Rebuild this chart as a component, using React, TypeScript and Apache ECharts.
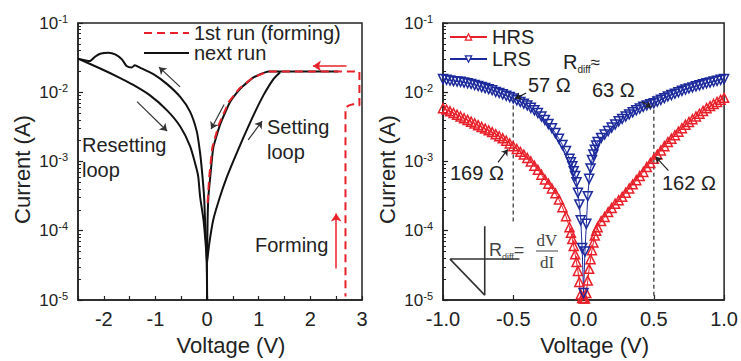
import React, { useEffect, useRef } from 'react';
import * as echarts from 'echarts';

const RED = '#e8202a';
const BLUE = '#1c2a9c';
const INK = '#222222';
const FONT = 'Liberation Sans, Arial, sans-serif';

// ---------- Left panel (voltage in V, log10 of current in A) ----------
const resetUpperV = [-2.5, -2.27, -2.17, -2.07, -1.91, -1.78, -1.65, -1.56, -1.46, -1.4, -1.3, -1.04, -0.78, -0.52, -0.33, -0.2, -0.14, -0.1, -0.058, -0.04, -0.02, -0.006, 0];
const resetUpperLog = [-1.515, -1.549, -1.487, -1.444, -1.43, -1.454, -1.525, -1.62, -1.643, -1.61, -1.643, -1.738, -1.879, -2.068, -2.28, -2.565, -2.85, -3.13, -3.51, -3.84, -4.17, -4.46, -5];
const resetLowerV = [-2.5, -2.07, -1.75, -1.43, -1.105, -0.78, -0.52, -0.33, -0.21, -0.17, -0.135, -0.07, -0.03, -0.005, 0];
const resetLowerLog = [-1.515, -1.657, -1.77, -1.894, -2.045, -2.258, -2.494, -2.777, -3.085, -3.227, -3.51, -3.84, -4.17, -4.45, -5];
const setInnerV = [0, 0.01, 0.025, 0.06, 0.12, 0.25, 0.445, 0.64, 0.9, 1.19, 2.54];
const setInnerLog = [-4.4, -3.84, -3.51, -3.23, -2.8, -2.47, -2.14, -1.95, -1.785, -1.7, -1.7];
const setOuterV = [0, 0.045, 0.12, 0.25, 0.38, 0.51, 0.7, 0.9, 1.09, 1.285, 1.415];
const setOuterLog = [-4.45, -4.17, -3.84, -3.51, -3.23, -2.99, -2.66, -2.33, -2.045, -1.81, -1.71];
const formingV = [0.01, 0.04, 0.1, 0.225, 0.42, 0.62, 0.89, 1.19, 2.95, 2.95, 2.85, 2.75, 2.68, 2.68];
const formingLog = [-3.6, -3.23, -2.8, -2.47, -2.14, -1.95, -1.785, -1.7, -1.7, -2.19, -2.17, -2.19, -2.22, -4.95];

// arrows: [v1, log1, v2, log2]
const leftBlackArrows = [
  [-0.523, -1.922, -0.93, -1.638],
  [-1.357, -2.135, -0.775, -2.56],
  [0.33, -2.177, 0.078, -2.532],
  [0.795, -2.688, 1.066, -2.418],
];
const leftRedArrows = [
  [2.7, -1.62, 2.05, -1.62],
  [2.5, -4.546, 2.5, -3.752],
];

// ---------- Right panel ----------
const sweepV = [
  -1.0, -0.975, -0.95, -0.925, -0.9, -0.875, -0.85, -0.825, -0.8, -0.775,
  -0.75, -0.725, -0.7, -0.675, -0.65, -0.625, -0.6, -0.575, -0.55, -0.525,
  -0.5, -0.475, -0.45, -0.425, -0.4, -0.375, -0.35, -0.325, -0.3, -0.275,
  -0.25, -0.225, -0.2, -0.175, -0.15, -0.125, -0.1,
  -0.09, -0.08, -0.07, -0.06, -0.05, -0.04, -0.03, -0.02, -0.01, 0,
  0.01, 0.02, 0.03, 0.04, 0.05, 0.06, 0.07, 0.08, 0.09,
  0.1, 0.125, 0.15, 0.175, 0.2, 0.225, 0.25, 0.275, 0.3, 0.325,
  0.35, 0.375, 0.4, 0.425, 0.45, 0.475, 0.5, 0.525, 0.55, 0.575,
  0.6, 0.625, 0.65, 0.675, 0.7, 0.725, 0.75, 0.775, 0.8, 0.825,
  0.85, 0.875, 0.9, 0.925, 0.95, 0.975, 1.0,
];
const lrsLog = [
  -1.81, -1.82, -1.83, -1.84, -1.845, -1.85, -1.86, -1.87, -1.88, -1.895,
  -1.91, -1.925, -1.94, -1.955, -1.97, -1.995, -2.01, -2.03, -2.05, -2.07,
  -2.09, -2.115, -2.14, -2.165, -2.19, -2.225, -2.26, -2.3, -2.35, -2.4,
  -2.46, -2.52, -2.59, -2.67, -2.76, -2.85, -2.96,
  -3.01, -3.07, -3.14, -3.21, -3.3, -3.45, -3.62, -3.85, -4.25, -4.9,
  -4.3, -3.9, -3.5, -3.25, -3.1, -2.98, -2.9, -2.83, -2.77,
  -2.72, -2.66, -2.61, -2.56, -2.51, -2.465, -2.42, -2.385, -2.35, -2.32,
  -2.29, -2.26, -2.235, -2.21, -2.19, -2.175, -2.16, -2.135, -2.11, -2.085,
  -2.06, -2.04, -2.02, -2.0, -1.98, -1.96, -1.945, -1.93, -1.915, -1.9,
  -1.885, -1.87, -1.86, -1.845, -1.835, -1.82, -1.81,
];
const hrsLog = [
  -2.23, -2.25, -2.275, -2.3, -2.325, -2.35, -2.375, -2.4, -2.425, -2.45,
  -2.475, -2.5, -2.525, -2.55, -2.575, -2.605, -2.635, -2.665, -2.7, -2.74,
  -2.78, -2.82, -2.86, -2.9, -2.95, -3.0, -3.06, -3.12, -3.19, -3.26,
  -3.32, -3.39, -3.46, -3.55, -3.66, -3.79, -3.95,
  -4.03, -4.12, -4.22, -4.34, -4.45, -4.58, -4.74, -4.92, -4.97, -4.98,
  -4.98, -4.9, -4.72, -4.55, -4.41, -4.28, -4.17, -4.07, -4.0,
  -3.95, -3.86, -3.8, -3.73, -3.67, -3.61, -3.56, -3.51, -3.45, -3.39,
  -3.33, -3.27, -3.21, -3.15, -3.08, -3.02, -2.96, -2.9, -2.84, -2.78,
  -2.72, -2.67, -2.62, -2.57, -2.52, -2.47, -2.43, -2.39, -2.35, -2.31,
  -2.27, -2.23, -2.2, -2.17, -2.14, -2.11, -2.08,
];
const guideNegV = [-0.5, -0.5];
const guideNegLog = [-2.09, -3.89];
const guidePosV = [0.5, 0.5];
const guidePosLog = [-2.05, -5];
const insetV = [-0.456, -0.95, -0.703, -0.703];
const insetLog = [-4.409, -4.409, -4.929, -3.936];
const rightArrows = [
  [-0.408, -2.011, -0.486, -2.092],
  [0.416, -2.139, 0.482, -2.216],
  [-0.609, -3.014, -0.539, -2.826],
  [0.604, -3.132, 0.514, -2.933],
];

const leftXTicks = [-2, -1, 0, 1, 2, 3];

const pts = (v: number[], lg: number[]) => v.map((x, i) => [x, Math.pow(10, lg[i])]);
const arrowLines = (arr: number[][]) =>
  arr.map((a) => [{ coord: [a[0], Math.pow(10, a[1])] }, { coord: [a[2], Math.pow(10, a[3])] }]);

const minorTicks: number[] = [];
for (let e = -5; e <= -2; e++) for (let m = 2; m <= 9; m++) minorTicks.push(m * Math.pow(10, e));

function makeYAxes(gridIndex: number) {
  return [
    {
      gridIndex,
      type: 'log',
      logBase: 10,
      min: 1e-5,
      max: 1e-1,
      position: 'left',
      axisLine: { show: true, onZero: false, lineStyle: { color: INK, width: 1.5 } },
      axisTick: { show: true, inside: true, length: 5, lineStyle: { color: INK, width: 1.2 } },
      splitLine: { show: false },
      axisLabel: {
        margin: 10,
        formatter: (v: number) => `{b|10}{s|${Math.round(Math.log10(v))}}`,
        rich: {
          b: { fontSize: 17, color: INK, fontFamily: FONT, lineHeight: 20 },
          s: { fontSize: 11, color: INK, fontFamily: FONT, lineHeight: 11, verticalAlign: 'top' },
        },
      },
      name: 'Current (A)',
      nameLocation: 'middle',
      nameGap: 45,
      nameRotate: 90,
      nameTextStyle: { fontSize: 22, color: INK, fontFamily: FONT, padding: [0, 16, 0, 0] },
    },
    {
      gridIndex,
      type: 'log',
      logBase: 10,
      min: 1e-5,
      max: 1e-1,
      position: 'left',
      axisLine: { show: false, onZero: false },
      axisLabel: { show: false },
      splitLine: { show: false },
      axisTick: { show: true, inside: true, length: 3, customValues: minorTicks, lineStyle: { color: INK, width: 1 } },
    },
  ];
}

export default function App() {
  const ref = useRef<HTMLDivElement>(null);
  useEffect(() => {
    const chart = echarts.init(ref.current!, undefined, { renderer: 'svg' });
    const black = { color: '#111', width: 2 };
    const option: any = {
      animation: false,
      backgroundColor: '#fff',
      textStyle: { fontFamily: FONT },
      grid: [
        { left: 78, top: 23, width: 284, height: 282, show: true, borderColor: INK, borderWidth: 1.5, backgroundColor: 'transparent' },
        { left: 443, top: 23, width: 283, height: 282, show: true, borderColor: INK, borderWidth: 1.5, backgroundColor: 'transparent' },
      ],
      legend: [
        {
          data: ['1st run (forming)', 'next run'],
          left: 138,
          top: 18,
          orient: 'vertical',
          itemWidth: 45,
          itemHeight: 12,
          itemGap: 0,
          selectedMode: false,
          itemStyle: { opacity: 0 },
          textStyle: { fontSize: 20, color: INK, fontFamily: FONT, lineHeight: 20 },
        },
        {
          data: ['HRS', 'LRS'],
          left: 444,
          top: 22,
          orient: 'vertical',
          itemWidth: 37,
          itemHeight: 8,
          itemGap: 2,
          selectedMode: false,
          itemStyle: { color: '#fff', borderColor: 'inherit', borderWidth: 1.2 },
          textStyle: { fontSize: 20, color: INK, fontFamily: FONT, lineHeight: 20 },
        },
      ],
      xAxis: [
        {
          gridIndex: 0,
          type: 'value',
          min: -2.5,
          max: 3,
          interval: 0.5,
          axisLine: { show: true, onZero: false, lineStyle: { color: INK, width: 1.5 } },
          axisTick: { show: true, inside: true, length: 4, lineStyle: { color: INK, width: 1.2 } },
          splitLine: { show: false },
          axisLabel: {
            fontSize: 20,
            color: INK,
            fontFamily: FONT,
            margin: 9,
            formatter: (v: number) => (leftXTicks.indexOf(v) >= 0 ? String(v) : ''),
          },
          name: 'Voltage (V)',
          nameLocation: 'middle',
          nameGap: 34,
          nameTextStyle: { fontSize: 22, color: INK, fontFamily: FONT, padding: [0, 0, 0, 22] },
        },
        {
          gridIndex: 1,
          type: 'value',
          min: -1,
          max: 1,
          interval: 0.5,
          axisLine: { show: true, onZero: false, lineStyle: { color: INK, width: 1.5 } },
          axisTick: { show: true, inside: true, length: 5, lineStyle: { color: INK, width: 1.2 } },
          splitLine: { show: false },
          axisLabel: { fontSize: 20, color: INK, fontFamily: FONT, margin: 9, formatter: (v: number) => v.toFixed(1) },
          name: 'Voltage (V)',
          nameLocation: 'middle',
          nameGap: 34,
          nameTextStyle: { fontSize: 22, color: INK, fontFamily: FONT, padding: [0, 0, 0, 22] },
        },
      ],
      yAxis: [...makeYAxes(0), ...makeYAxes(1)],
      series: [
        { name: 'next run', type: 'line', xAxisIndex: 0, yAxisIndex: 0, data: pts(resetUpperV, resetUpperLog), symbol: 'none', smooth: 0.2, color: '#111', lineStyle: black },
        { name: 'next run', type: 'line', xAxisIndex: 0, yAxisIndex: 0, data: pts(resetLowerV, resetLowerLog), symbol: 'none', smooth: 0.2, color: '#111', lineStyle: black },
        { name: 'next run', type: 'line', xAxisIndex: 0, yAxisIndex: 0, data: pts(setInnerV, setInnerLog), symbol: 'none', smooth: 0.15, color: '#111', lineStyle: black },
        { name: 'next run', type: 'line', xAxisIndex: 0, yAxisIndex: 0, data: pts(setOuterV, setOuterLog), symbol: 'none', smooth: 0.2, color: '#111', lineStyle: black },
        {
          name: '1st run (forming)', type: 'line', xAxisIndex: 0, yAxisIndex: 0, data: pts(formingV, formingLog), symbol: 'none', smooth: false,
          color: RED, lineStyle: { color: RED, width: 2, type: [8, 5] },
        },
        {
          name: 'arrowsLeft', type: 'line', xAxisIndex: 0, yAxisIndex: 0, data: [], symbol: 'none',
          markLine: {
            silent: true, symbol: ['none', 'arrow'], symbolSize: 7, label: { show: false },
            lineStyle: { color: '#333', width: 1.2, type: 'solid' },
            data: arrowLines(leftBlackArrows),
          },
        },
        {
          name: 'arrowsLeftRed', type: 'line', xAxisIndex: 0, yAxisIndex: 0, data: [], symbol: 'none',
          markLine: {
            silent: true, symbol: ['none', 'arrow'], symbolSize: 8, label: { show: false },
            lineStyle: { color: RED, width: 1.5, type: 'solid' },
            data: arrowLines(leftRedArrows),
          },
        },
        {
          name: 'guideNeg', type: 'line', xAxisIndex: 1, yAxisIndex: 2, data: pts(guideNegV, guideNegLog), symbol: 'none',
          lineStyle: { color: '#555', width: 1.5, type: [4, 3] },
        },
        {
          name: 'guidePos', type: 'line', xAxisIndex: 1, yAxisIndex: 2, data: pts(guidePosV, guidePosLog), symbol: 'none',
          lineStyle: { color: '#555', width: 1.5, type: [4, 3] },
        },
        {
          name: 'inset', type: 'line', xAxisIndex: 1, yAxisIndex: 2, data: pts(insetV, insetLog), symbol: 'none',
          lineStyle: { color: '#333', width: 1.6 },
        },
        {
          name: 'HRS', type: 'line', xAxisIndex: 1, yAxisIndex: 2, data: pts(sweepV, hrsLog),
          symbol: 'triangle', symbolSize: 9, showAllSymbol: true, color: RED,
          itemStyle: { color: 'rgba(255,255,255,0)', borderColor: RED, borderWidth: 1.5 },
          lineStyle: { color: RED, width: 1 },
        },
        {
          name: 'LRS', type: 'line', xAxisIndex: 1, yAxisIndex: 2, data: pts(sweepV, lrsLog),
          symbol: 'triangle', symbolRotate: 180, symbolSize: 9, showAllSymbol: true, color: BLUE,
          itemStyle: { color: 'rgba(255,255,255,0)', borderColor: BLUE, borderWidth: 1.5 },
          lineStyle: { color: BLUE, width: 1 },
        },
        {
          name: 'arrowsRight', type: 'line', xAxisIndex: 1, yAxisIndex: 2, data: [], symbol: 'none',
          markLine: {
            silent: true, symbol: ['none', 'arrow'], symbolSize: 6, label: { show: false },
            lineStyle: { color: '#222', width: 1.2, type: 'solid' },
            data: arrowLines(rightArrows),
          },
        },
      ],
      graphic: [
        { type: 'text', x: 82, y: 145, style: { text: 'Resetting', fontSize: 20, fontFamily: FONT, fill: INK, verticalAlign: 'middle' } },
        { type: 'text', x: 82, y: 170, style: { text: 'loop', fontSize: 20, fontFamily: FONT, fill: INK, verticalAlign: 'middle' } },
        { type: 'text', x: 267, y: 127, style: { text: 'Setting', fontSize: 20, fontFamily: FONT, fill: INK, verticalAlign: 'middle' } },
        { type: 'text', x: 267, y: 152, style: { text: 'loop', fontSize: 20, fontFamily: FONT, fill: INK, verticalAlign: 'middle' } },
        { type: 'text', x: 255, y: 245, style: { text: 'Forming', fontSize: 20, fontFamily: FONT, fill: INK, verticalAlign: 'middle' } },
        {
          type: 'text', x: 563, y: 62,
          style: {
            text: '{r|R}{s|diff}{a|≈}', verticalAlign: 'middle',
            rich: {
              r: { fontSize: 20, fontFamily: FONT, fill: INK, lineHeight: 24 },
              s: { fontSize: 10, fontFamily: FONT, fill: INK, lineHeight: 10, verticalAlign: 'bottom' },
              a: { fontSize: 17, fontFamily: FONT, fill: INK, lineHeight: 24 },
            },
          },
        },
        { type: 'text', x: 528, y: 85, style: { text: '57 Ω', fontSize: 20, fontFamily: FONT, fill: INK, verticalAlign: 'middle' } },
        { type: 'text', x: 592, y: 90, style: { text: '63 Ω', fontSize: 20, fontFamily: FONT, fill: INK, verticalAlign: 'middle' } },
        { type: 'text', x: 450, y: 173, style: { text: '169 Ω', fontSize: 20, fontFamily: FONT, fill: INK, verticalAlign: 'middle' } },
        { type: 'text', x: 662, y: 183, style: { text: '162 Ω', fontSize: 20, fontFamily: FONT, fill: INK, verticalAlign: 'middle' } },
        {
          type: 'text', x: 489, y: 250,
          style: {
            text: '{r|R}{s|diff}{e|=}', verticalAlign: 'middle',
            rich: {
              r: { fontSize: 18, fontFamily: FONT, fill: '#444', lineHeight: 22 },
              s: { fontSize: 9, fontFamily: FONT, fill: '#444', lineHeight: 9, verticalAlign: 'bottom' },
              e: { fontSize: 18, fontFamily: FONT, fill: '#444', lineHeight: 22 },
            },
          },
        },
        { type: 'text', x: 547, y: 240, style: { text: 'dV', fontSize: 17, fontFamily: 'Liberation Serif, serif', fill: '#444', align: 'center', verticalAlign: 'middle' } },
        { type: 'text', x: 547, y: 262, style: { text: 'dI', fontSize: 17, fontFamily: 'Liberation Serif, serif', fill: '#444', align: 'center', verticalAlign: 'middle' } },
        { type: 'line', shape: { x1: 536, y1: 251, x2: 558, y2: 251 }, style: { stroke: '#444', lineWidth: 1 } },
      ],
    };
    chart.setOption(option);
    return () => chart.dispose();
  }, []);
  return <div ref={ref} style={{ position: 'fixed', left: 0, top: 0, width: 741, height: 361, background: '#fff' }} />;
}
